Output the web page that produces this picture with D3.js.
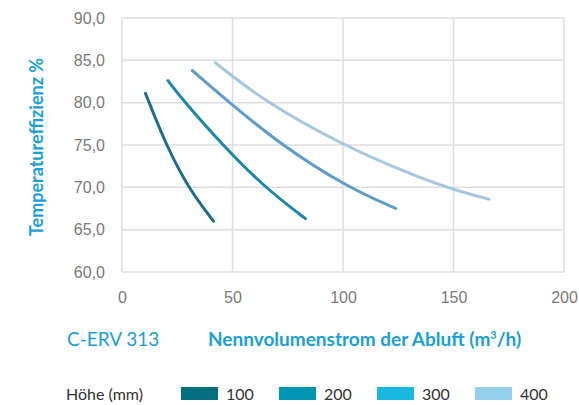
<!DOCTYPE html>
<html lang="de">
<head>
  <meta charset="utf-8">
  <title>C-ERV 313</title>
  <script src="https://d3js.org/d3.v7.min.js"></script>
  <style>
    body { margin: 0; background: #fff; }
    .tick text { font: 16px "Liberation Sans", Arial, sans-serif; fill: #7a7a7a; }
    .titel { font-family: Lato, sans-serif; fill: #1aa0d6; }
    .legende text { font: 16px Lato, sans-serif; fill: #333; }
  </style>
</head>
<body>
  <div id="chart"></div>

  <script>
    "use strict"

    // Daten
    var hoehen = ["100", "200", "300", "400"];
    var xTicks = [0, 50, 100, 150, 200];
    var yTicks = [60, 65, 70, 75, 80, 85, 90];

    var volumen100 = [10.6, 12.3, 20.0, 29.8, 41.4];
    var effizienz100 = [81.1, 80.0, 75.0, 70.0, 66.0];
    var volumen200 = [20.8, 28.5, 45.5, 64.5, 83.0];
    var effizienz200 = [82.6, 80.0, 75.0, 70.0, 66.3];
    var volumen300 = [31.8, 48.6, 72.0, 102.0, 123.9];
    var effizienz300 = [83.8, 80.0, 75.0, 70.0, 67.5];
    var volumen400 = [42.3, 65.2, 99.8, 130.0, 150.0, 166.1];
    var effizienz400 = [84.7, 80.0, 75.0, 71.6, 69.7, 68.6];

    var linienFarben = ["#1d6e8c", "#1b87ab", "#5c9ec9", "#a7c7df"];
    var legendeFarben = ["#036f80", "#0095b3", "#19b8e1", "#95d0ec"];

    var serien = [
      { name: hoehen[0], x: volumen100, y: effizienz100 },
      { name: hoehen[1], x: volumen200, y: effizienz200 },
      { name: hoehen[2], x: volumen300, y: effizienz300 },
      { name: hoehen[3], x: volumen400, y: effizienz400 }
    ];

    var breite = 579, hoehe = 405;
    var margin = {top: 18, right: 15, bottom: 133, left: 122};

    var svg = d3.select('#chart').append('svg')
      .attr('width', breite)
      .attr('height', hoehe);

    var x = d3.scaleLinear().domain([0, 200]).range([margin.left, breite - margin.right]);
    var y = d3.scaleLinear().domain([60, 90]).range([hoehe - margin.bottom, margin.top]);

    // Gitter
    svg.append('g')
      .selectAll('line.v')
      .data(xTicks)
      .enter().append('line')
        .attr('x1', d => x(d)).attr('x2', d => x(d))
        .attr('y1', y(60)).attr('y2', y(90))
        .attr('stroke', '#dedede').attr('stroke-width', 1.5);

    svg.append('g')
      .selectAll('line.h')
      .data(yTicks)
      .enter().append('line')
        .attr('x1', x(0)).attr('x2', x(200))
        .attr('y1', d => y(d)).attr('y2', d => y(d))
        .attr('stroke', '#dedede').attr('stroke-width', 1.5);

    // Achsen (nur Beschriftung)
    var xAchse = svg.append('g')
      .attr('transform', 'translate(0,' + y(60) + ')')
      .call(d3.axisBottom(x).tickValues(xTicks).tickSize(0).tickPadding(20).tickFormat(d3.format('d')));
    xAchse.select('.domain').remove();

    var yAchse = svg.append('g')
      .attr('transform', 'translate(' + x(0) + ',0)')
      .call(d3.axisLeft(y).tickValues(yTicks).tickSize(0).tickPadding(17)
        .tickFormat(d => d3.format('.1f')(d).replace('.', ',')));
    yAchse.select('.domain').remove();

    // Linien
    var linie = d3.line()
      .x(d => x(d[0]))
      .y(d => y(d[1]))
      .curve(d3.curveBasis);

    svg.append('g')
      .selectAll('path')
      .data(serien)
      .enter().append('path')
        .attr('d', s => linie(d3.zip(s.x, s.y)))
        .attr('fill', 'none')
        .attr('stroke', (s, i) => linienFarben[i])
        .attr('stroke-width', 3)
        .attr('stroke-linecap', 'round');

    // Titel
    svg.append('text')
      .attr('class', 'titel')
      .attr('transform', 'translate(43,147) rotate(-90)')
      .attr('text-anchor', 'middle')
      .style('font-size', '18px')
      .style('font-weight', 'bold')
      .text('Temperatureffizienz %');

    svg.append('text')
      .attr('class', 'titel')
      .attr('x', 67).attr('y', 346)
      .style('font-size', '19px')
      .text('C-ERV 313');

    var xTitel = svg.append('text')
      .attr('class', 'titel')
      .attr('x', 208).attr('y', 346)
      .style('font-size', '19px')
      .style('font-weight', 'bold');
    xTitel.append('tspan').text('Nennvolumenstrom der Abluft (m');
    xTitel.append('tspan').text('3').attr('dy', -7).style('font-size', '11px');
    xTitel.append('tspan').text('/h)').attr('dy', 7);

    // Legende
    var legende = svg.append('g').attr('class', 'legende');
    legende.append('text').attr('x', 66).attr('y', 400).text('Höhe (mm)');

    var legX = [181, 279, 377, 475];
    var eintrag = legende.selectAll('g.eintrag')
      .data(hoehen)
      .enter().append('g')
        .attr('transform', (d, i) => 'translate(' + legX[i] + ',0)');
    eintrag.append('rect')
      .attr('x', 0).attr('y', 387)
      .attr('width', 37).attr('height', 13)
      .attr('fill', (d, i) => legendeFarben[i]);
    eintrag.append('text')
      .attr('x', 45).attr('y', 400)
      .text(d => d);
  </script>
</body>
</html>
